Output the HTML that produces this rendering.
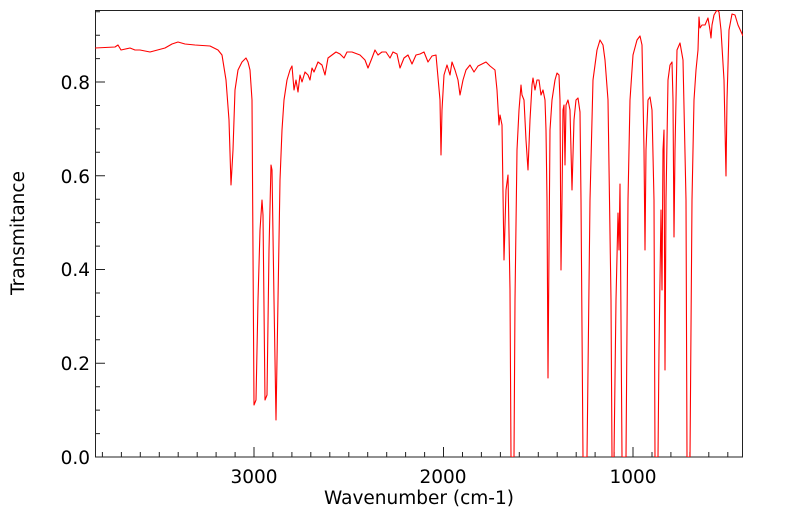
<!DOCTYPE html>
<html><head><style>
html,body{margin:0;padding:0;background:#fff;}
svg{display:block;font-family:"DejaVu Sans","Liberation Sans",sans-serif;}
</style></head><body>
<svg width="799" height="516" viewBox="0 0 799 516">
<defs><clipPath id="c"><rect x="95" y="10" width="648" height="447"/></clipPath></defs>
<rect x="95.5" y="10.5" width="647" height="446.5" fill="none" stroke="#222" stroke-width="1"/>
<path fill="none" stroke="#222" stroke-width="1" d="
M102.4,457V452 M121.4,457V452 M140.3,457V452 M159.3,457V452 M178.2,457V452 M197.2,457V452 M216.1,457V452 M235.1,457V452 M254,457V447 M272.9,457V452 M291.9,457V452 M310.8,457V452 M329.8,457V452 M348.8,457V452 M367.7,457V452 M386.7,457V452 M405.6,457V452 M424.6,457V452 M443.5,457V447 M462.5,457V452 M481.4,457V452 M500.4,457V452 M519.3,457V452 M538.3,457V452 M557.2,457V452 M576.2,457V452 M595.1,457V452 M614.1,457V452 M633,457V447 M652,457V452 M670.9,457V452 M689.9,457V452 M708.8,457V452 M727.8,457V452
M95,457H105 M95,433.6H100 M95,410.1H100 M95,386.7H100 M95,363.3H105 M95,339.8H100 M95,316.4H100 M95,293H100 M95,269.5H105 M95,246.1H100 M95,222.6H100 M95,199.2H100 M95,175.8H105 M95,152.3H100 M95,128.9H100 M95,105.5H100 M95,82H105 M95,58.6H100 M95,35.2H100 M95,11.7H100"/>
<g font-size="18.5" fill="#000" text-anchor="end">
<text x="90" y="464">0.0</text>
<text x="90" y="370">0.2</text>
<text x="90" y="276">0.4</text>
<text x="90" y="183">0.6</text>
<text x="90" y="89">0.8</text>
</g>
<g font-size="18.5" fill="#000" text-anchor="middle">
<text x="254" y="483">3000</text>
<text x="443" y="483">2000</text>
<text x="633" y="483">1000</text>
<text x="419" y="504">Wavenumber (cm-1)</text>
<text transform="translate(24,233) rotate(-90)">Transmitance</text>
</g>
<polyline clip-path="url(#c)" fill="none" stroke="#ff0000" stroke-width="1.1" stroke-linejoin="round" points="
95,48 115,47 118,45 121,50 130,48 135,50 140,50 150,52 165,48 172,44 178,42 185,44 195,45 210,46 218,50 222,55 226,80 229,120 231,185 233,150 235,90 238,70 242,62 246,58 248,62 250,70 252,100 254,405 256,400 258,300 260,230 262,200 263,215 265,400 267,395 269,250 271,165 272,170 274,300 276,420 278,300 280,180 282,130 284,100 287,80 290,70 292,66 294,90 296,80 298,92 300,75 302,82 305,72 308,75 310,80 312,68 314,72 318,62 322,65 325,75 328,58 332,55 336,52 340,54 344,58 347,52 352,52 360,55 365,60 368,68 372,58 375,50 378,55 382,52 386,52 390,58 393,52 397,54 400,68 404,58 408,55 412,64 416,55 420,54 424,52 428,62 432,56 436,55 440,100 441,155 442,110 444,75 447,65 450,75 452,62 455,70 458,80 460,95 463,80 466,70 470,65 474,72 478,66 482,64 486,62 490,66 495,70 497,90 499,125 500,115 502,125 504,260 506,190 508,175 510,290 511,457 514,457 515,300 517,150 519,110 521,85 522,95 524,100 526,140 528,170 530,120 532,85 533,78 535,90 537,80 539,80 541,95 543,90 545,100 546,130 547,200 548,378 549,250 550,130 552,100 555,80 557,73 559,75 560,100 561,270 562,200 563,110 564,105 565,165 566,105 568,100 570,110 572,190 574,120 576,100 578,98 580,112 581,200 583,457 587,457 590,200 593,80 597,50 600,40 603,45 605,60 608,100 611,300 612,457 614,457 616,300 618,213 619,250 620,184 622,457 626,457 628,200 630,100 633,55 637,40 640,36 642,45 644,150 645,250 646,150 648,100 650,97 652,110 654,200 655,457 658,457 659,350 661,210 662,290 663,150 664,130 665,370 666,200 668,80 670,65 672,62 673,100 674,237 675,150 677,50 680,43 683,60 686,200 687,457 690,457 692,200 694,100 696,70 698,50 699,17 700,28 702,25 705,25 708,18 710,30 711,38 712,25 714,15 717,10 719,12 721,30 724,80 726,176 727,100 729,30 732,14 735,15 738,25 743,36"/>
</svg>
</body></html>
